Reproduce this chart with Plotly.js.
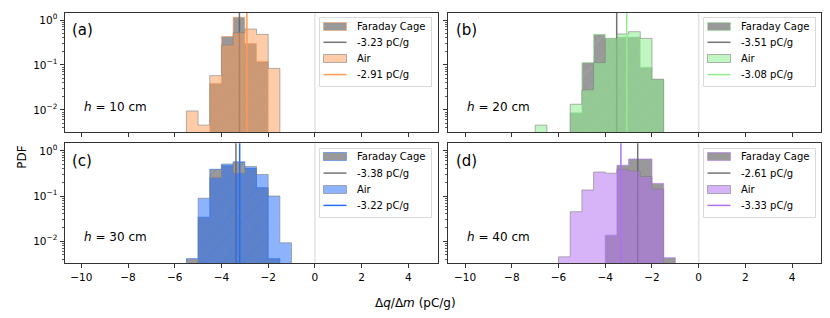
<!DOCTYPE html>
<html>
<head>
<meta charset="utf-8">
<script src="https://cdn.plot.ly/plotly-3.0.1.min.js"></script>
<style>html,body{margin:0;padding:0;background:#fff;}#chart{width:830px;height:318px;}</style>
</head>
<body>
<div id="chart"></div>
<script>
// ---------------- DATA ----------------
const BIN_EDGES = [-7, -6.5, -6, -5.5, -5, -4.5, -4, -3.5, -3, -2.5, -2, -1.5, -1];
const PANEL_LABELS = ["(a)", "(b)", "(c)", "(d)"];
const HEIGHTS_CM = ["10", "20", "30", "40"];
const FARADAY_A = [0, 0, 0, 0, 0, 0.039, 0.43, 1.15, 0.30, 0.12, 0, 0];
const AIR_A     = [0, 0, 0, 0.0095, 0.0046, 0.058, 0.278, 0.52, 0.63, 0.48, 0.084, 0];
const FARADAY_B = [0, 0, 0, 0.0087, 0.113, 0.48, 0.38, 0.42, 0.42, 0.089, 0.048, 0];
const AIR_B     = [0.0046, 0, 0, 0.0134, 0.028, 0.113, 0.39, 0.49, 0.55, 0.39, 0.048, 0];
const FARADAY_C = [0, 0, 0, 0.0041, 0.034, 0.39, 0.47, 0.57, 0.41, 0.153, 0.0041, 0];
const AIR_C     = [0, 0, 0, 0, 0.089, 0.255, 0.51, 0.32, 0.45, 0.30, 0.10, 0.0092];
const FARADAY_D = [0, 0, 0, 0, 0, 0, 0.0136, 0.48, 0.66, 0.66, 0.19, 0.0043];
const AIR_D     = [0, 0, 0.0045, 0.045, 0.136, 0.34, 0.32, 0.39, 0.36, 0.27, 0.143, 0];
const MEAN_FARADAY = [-3.23, -3.51, -3.38, -2.61];
const MEAN_AIR     = [-2.91, -3.08, -3.22, -3.33];
const X_TICKS = [-10, -8, -6, -4, -2, 0, 2, 4];
const Y_TICKS = [1, 0.1, 0.01];
const Y_TICK_TEXT = ["10<sup>0</sup>", "10<sup>\u22121</sup>", "10<sup>\u22122</sup>"];
const SERIES_NAMES = ["Faraday Cage", "Air"];

// ---------------- STYLE ----------------
const FARADAY_FILLS = [FARADAY_A, FARADAY_B, FARADAY_C, FARADAY_D];
const AIR_FILLS = [AIR_A, AIR_B, AIR_C, AIR_D];
const AIR_RGB = [[255, 153, 85], [144, 238, 144], [35, 110, 250], [176, 112, 240]];
const AIR_ALPHA = [0.5, 0.56, 0.52, 0.52];
const GRAY_RGB = [128, 128, 128];
const rgba = (c, a) => `rgba(${c[0]},${c[1]},${c[2]},${a})`;
const FONT = "DejaVu Sans";
const W = 830, H = 318;
const px = x => x / W, py = y => 1 - y / H;
const snap = v => Math.round(v) + 0.5;
// panel pixel boxes [left, right, top, bottom]
const BOXES = [[64.5, 437.5, 12.5, 132], [448.3, 821.3, 12.5, 132],
               [64.5, 437.5, 143.3, 263.3], [448.3, 821.3, 143.3, 263.3]];
const BASE = 1e-5;

function stepPoly(edges, vals) {
  const xs = [edges[0]], ys = [BASE];
  for (let i = 0; i < vals.length; i++) {
    const v = vals[i] > 0 ? vals[i] : BASE;
    xs.push(edges[i], edges[i + 1]); ys.push(v, v);
  }
  xs.push(edges[edges.length - 1]); ys.push(BASE);
  return {x: xs, y: ys};
}

const minorVals = [];
for (let d = -3; d <= 0; d++) for (let k = 2; k <= 9; k++) minorVals.push(k * Math.pow(10, d));

const traces = [];
const layout = {
  width: W, height: H,
  margin: {l: 0, r: 0, t: 0, b: 0},
  paper_bgcolor: "#fff", plot_bgcolor: "#fff",
  font: {family: FONT, size: 10, color: "#000"},
  showlegend: false,
  annotations: [], shapes: []
};

for (let p = 0; p < 4; p++) {
  const sfx = p === 0 ? "" : String(p + 1);
  const xa = "x" + sfx, ya = "y" + sfx;
  const air = AIR_RGB[p], aa = AIR_ALPHA[p];
  const [L, R, T, B] = BOXES[p];

  const fp = stepPoly(BIN_EDGES, FARADAY_FILLS[p]);
  traces.push({
    type: "scatter", mode: "lines", x: fp.x, y: fp.y, xaxis: xa, yaxis: ya,
    fill: "toself", fillcolor: rgba(GRAY_RGB, 0.8),
    fillpattern: {shape: "/", bgcolor: rgba(GRAY_RGB, 0.8), fgcolor: rgba(air, 1), fgopacity: 0.2, size: 14, solidity: 0.07},
    line: {color: rgba(air, 0.6), width: 1}, name: SERIES_NAMES[0], hoverinfo: "skip"
  });
  traces.push({
    type: "scatter", mode: "lines", x: [MEAN_FARADAY[p], MEAN_FARADAY[p]], y: [BASE, 100],
    xaxis: xa, yaxis: ya, line: {color: "rgba(100,100,100,0.9)", width: 1.5},
    name: MEAN_FARADAY[p].toFixed(2) + " pC/g", hoverinfo: "skip"
  });
  const ap = stepPoly(BIN_EDGES, AIR_FILLS[p]);
  traces.push({
    type: "scatter", mode: "lines", x: ap.x, y: ap.y, xaxis: xa, yaxis: ya,
    fill: "toself", fillcolor: rgba(air, aa),
    line: {color: rgba(GRAY_RGB, 0.6), width: 1}, name: SERIES_NAMES[1], hoverinfo: "skip"
  });
  traces.push({
    type: "scatter", mode: "lines", x: [MEAN_AIR[p], MEAN_AIR[p]], y: [BASE, 100],
    xaxis: xa, yaxis: ya, line: {color: rgba(air, 1), width: 1.5},
    name: MEAN_AIR[p].toFixed(2) + " pC/g", hoverinfo: "skip"
  });

  const left = p % 2 === 0, bottom = p >= 2;
  layout["xaxis" + sfx] = {
    domain: [px(L), px(R)], anchor: ya, range: [-10.72, 5.25],
    tickvals: X_TICKS, ticktext: X_TICKS.map(v => v < 0 ? "\u2212" + Math.abs(v) : String(v)),
    showticklabels: bottom, ticks: "outside", ticklen: 4, tickcolor: "#333", tickwidth: 1,
    tickfont: {family: FONT, size: 10.5, color: "#000"},
    showline: true, mirror: true, linecolor: "#333", linewidth: 1,
    showgrid: false, zeroline: false, automargin: false, fixedrange: true
  };
  layout["yaxis" + sfx] = {
    domain: [py(B), py(T)], anchor: xa, type: "log", range: [-2.49, 0.167],
    tickvals: Y_TICKS, ticktext: Y_TICK_TEXT, showticklabels: left,
    ticks: "outside", ticklen: 4, tickcolor: "#333", tickwidth: 1,
    minor: {tickvals: minorVals, ticks: "outside", ticklen: 2, tickcolor: "#333", tickwidth: 0.8},
    tickfont: {family: FONT, size: 10.5, color: "#000"},
    showline: true, mirror: true, linecolor: "#333", linewidth: 1,
    showgrid: false, zeroline: false, automargin: false, fixedrange: true
  };
  layout.shapes.push({
    type: "line", xref: xa, yref: ya + " domain", x0: 0, x1: 0, y0: 0, y1: 1,
    line: {color: "rgba(200,200,200,0.5)", width: 1.5}, layer: "below"
  });

  // ---- manual legend (matplotlib-like) ----
  const bx0 = snap(L + 254.8), bx1 = snap(L + 366.5), by0 = snap(T + 4.8), by1 = snap(T + 73.2);
  layout.shapes.push({
    type: "rect", xref: "paper", yref: "paper", x0: px(bx0), x1: px(bx1), y0: py(by1), y1: py(by0),
    fillcolor: "rgba(255,255,255,0.8)", line: {color: "#d9d9d9", width: 1}, layer: "above"
  });
  const rows = [T + 13.6, T + 29.8, T + 45.9, T + 62.1];
  const sx0 = snap(L + 258.2), sx1 = snap(L + 281.2), tx = L + 290.5;
  const entries = [
    {kind: "patch", fill: rgba(GRAY_RGB, 0.8), edge: rgba(air, 0.5), text: SERIES_NAMES[0]},
    {kind: "line", color: "rgba(100,100,100,0.9)", text: MEAN_FARADAY[p].toFixed(2) + " pC/g"},
    {kind: "patch", fill: rgba(air, aa), edge: rgba(GRAY_RGB, 0.6), text: SERIES_NAMES[1]},
    {kind: "line", color: rgba(air, 1), text: MEAN_AIR[p].toFixed(2) + " pC/g"}
  ];
  entries.forEach((e, i) => {
    const yc = rows[i];
    if (e.kind === "patch") {
      layout.shapes.push({
        type: "rect", xref: "paper", yref: "paper", x0: px(sx0), x1: px(sx1),
        y0: py(snap(yc + 3.5)), y1: py(snap(yc - 4.5)),
        fillcolor: e.fill, line: {color: e.edge, width: 1}, layer: "above"
      });
    } else {
      layout.shapes.push({
        type: "line", xref: "paper", yref: "paper", x0: px(sx0), x1: px(sx1), y0: py(yc), y1: py(yc),
        line: {color: e.color, width: 1.5}, layer: "above"
      });
    }
    layout.annotations.push({
      xref: "paper", yref: "paper", x: px(tx), y: py(yc), xanchor: "left", yanchor: "middle",
      showarrow: false, text: e.text, font: {family: FONT, size: 10, color: "#000"}
    });
  });

  layout.annotations.push({
    xref: "paper", yref: "paper", x: px(L + 5.5), y: py(T + 17.5),
    xanchor: "left", yanchor: "middle", showarrow: false,
    text: PANEL_LABELS[p], font: {family: FONT, size: 15, color: "#000"}
  });
  layout.annotations.push({
    xref: "paper", yref: "paper", x: px(L + 17), y: py(T + 94),
    xanchor: "left", yanchor: "middle", showarrow: false,
    text: "<i>h</i> = " + HEIGHTS_CM[p] + " cm", font: {family: FONT, size: 12, color: "#000"}
  });
}

layout.annotations.push({
  xref: "paper", yref: "paper", x: px(21.7), y: py(157), textangle: -90,
  xanchor: "center", yanchor: "middle", showarrow: false,
  text: "PDF", font: {family: FONT, size: 12, color: "#000"}
});
layout.annotations.push({
  xref: "paper", yref: "paper", x: px(415), y: py(303),
  xanchor: "center", yanchor: "middle", showarrow: false,
  text: "\u0394<i>q</i>/\u0394<i>m</i> (pC/g)", font: {family: FONT, size: 12, color: "#000"}
});

Plotly.newPlot("chart", traces, layout, {staticPlot: true, displayModeBar: false});
</script>
</body>
</html>
